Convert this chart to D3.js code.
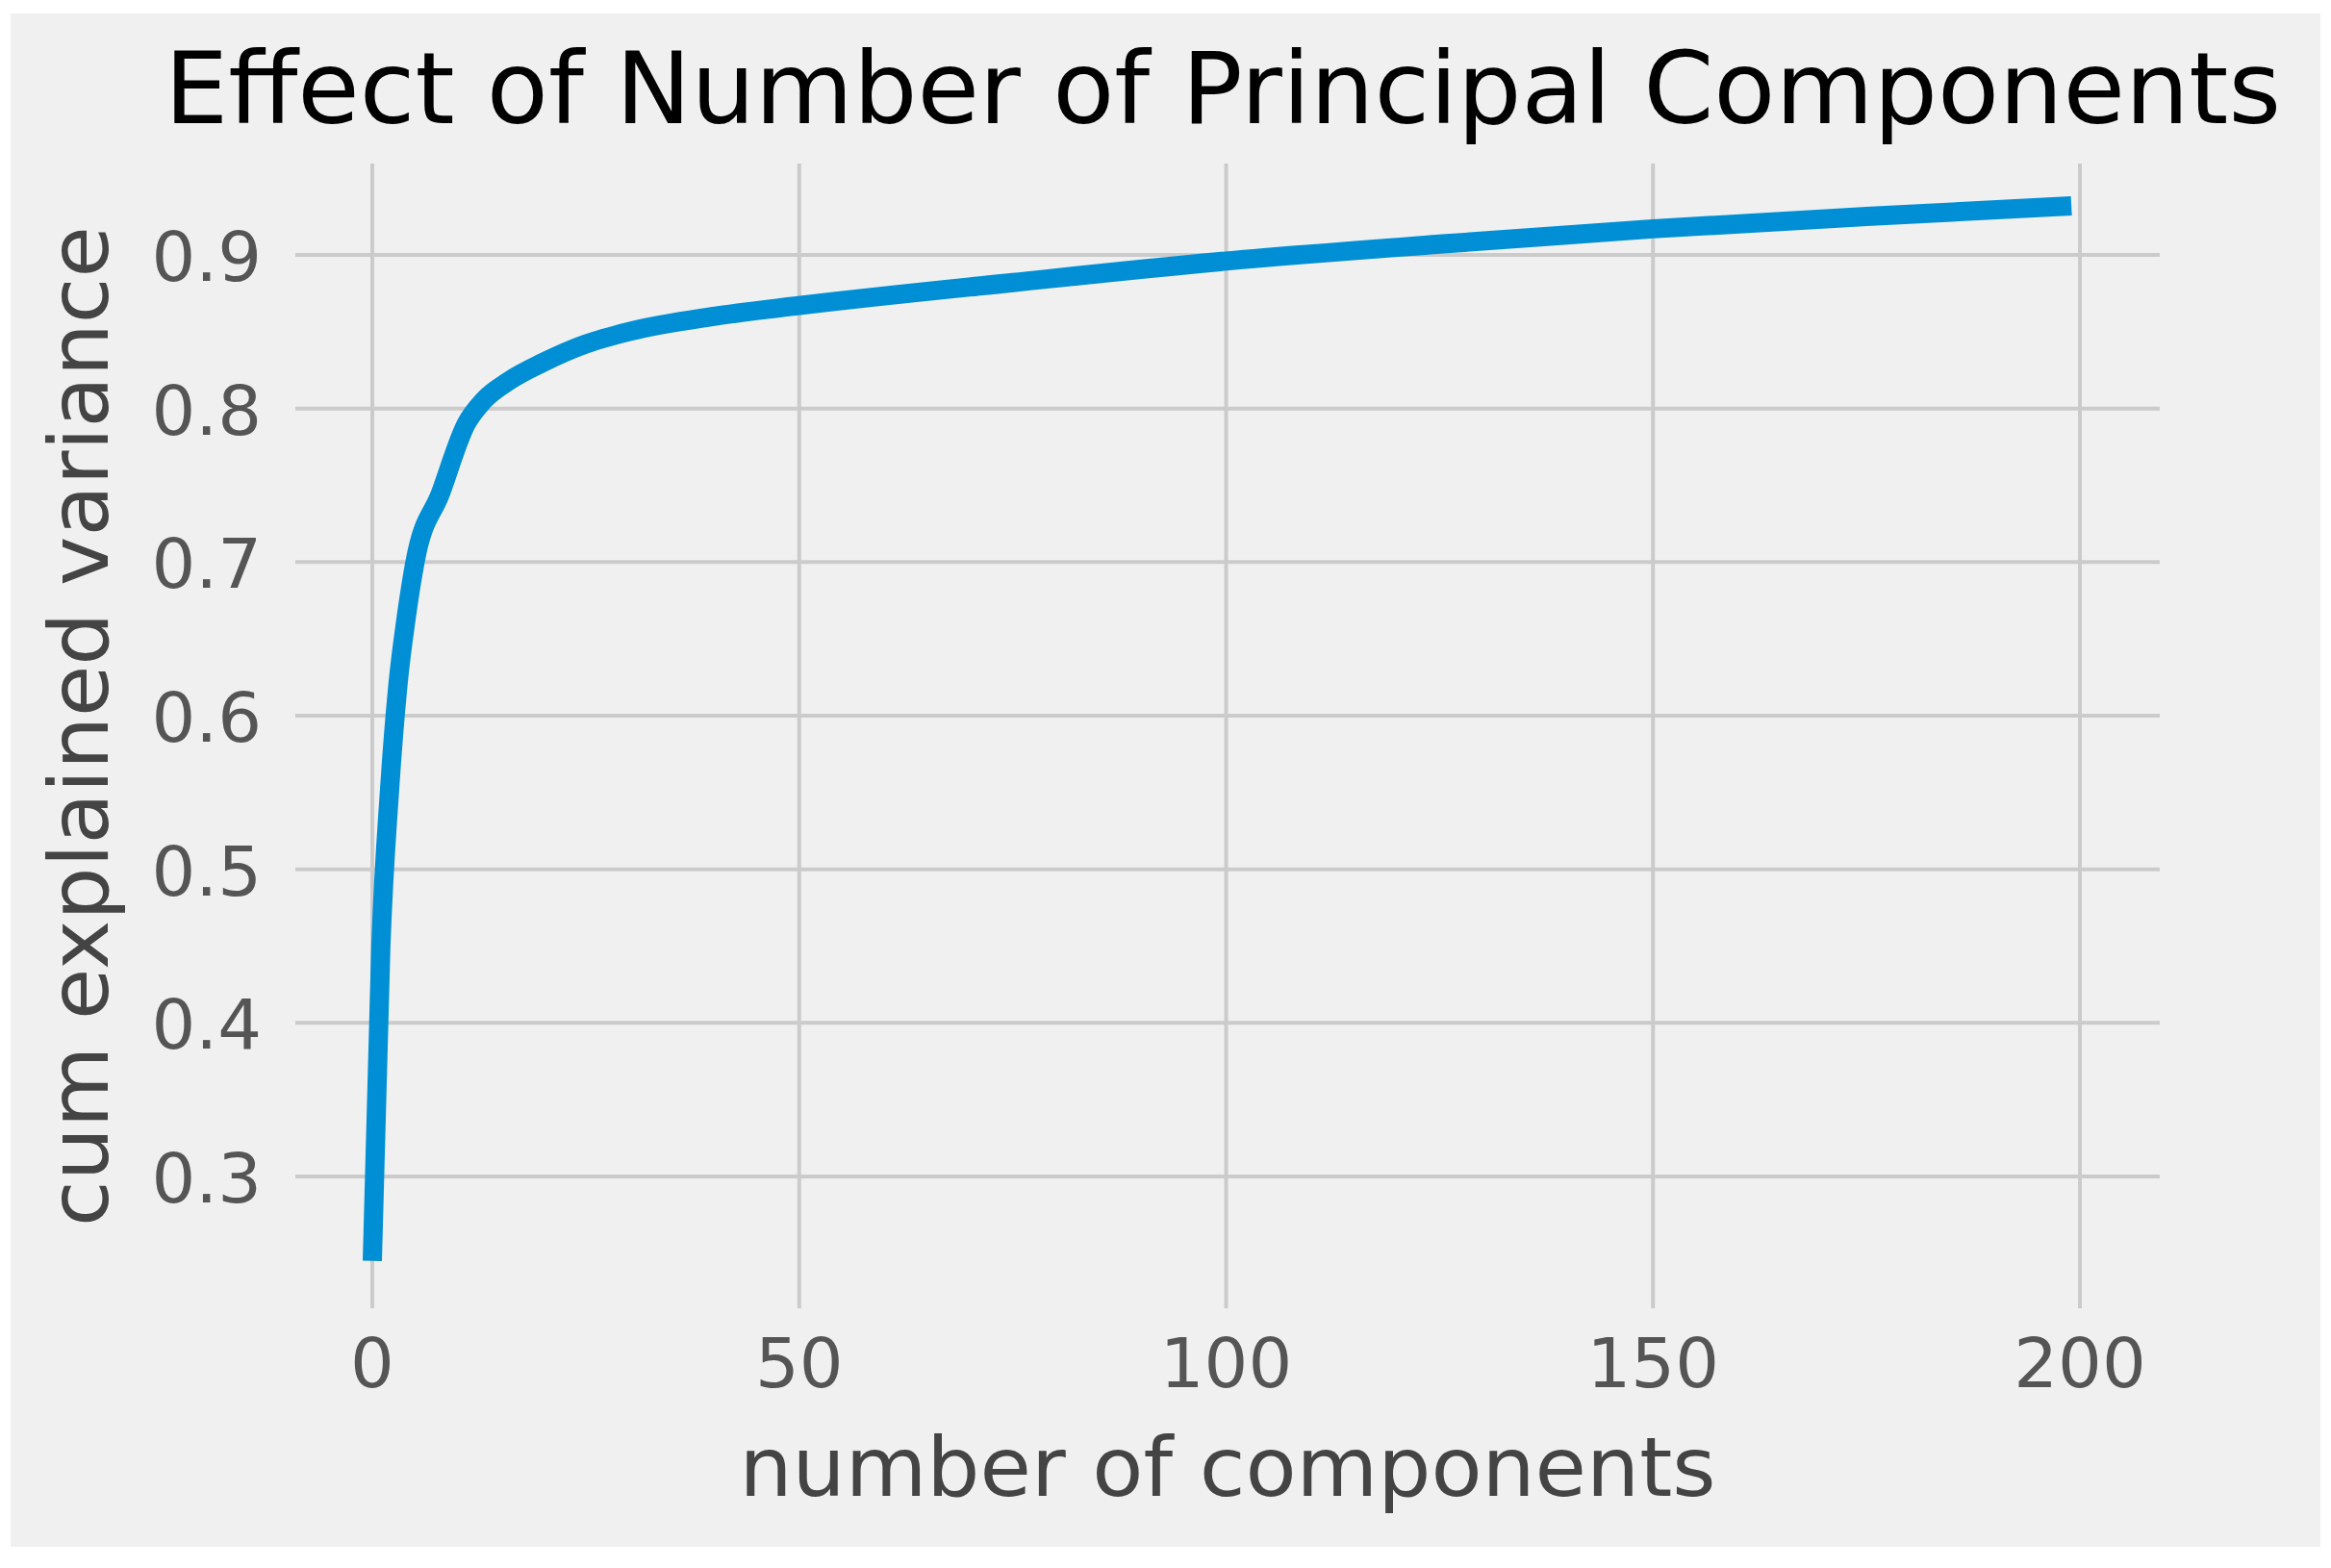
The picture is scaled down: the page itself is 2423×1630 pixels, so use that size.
<!DOCTYPE html>
<html>
<head>
<meta charset="utf-8">
<script src="https://cdn.jsdelivr.net/npm/d3@7"></script>
<style>
  body { margin: 0; background: #fff; }
  text { font-family: "DejaVu Sans", sans-serif; }
</style>
</head>
<body>
<div id="chart"></div>
<script>
// cumulative explained variance
const components = [0, 1, 2, 3, 4, 5, 8, 11, 13, 16, 20, 25, 30, 40, 50, 75, 100, 125, 150, 175, 199];
const cumVariance = [0.245, 0.45, 0.55, 0.62, 0.665, 0.70, 0.745, 0.79, 0.805, 0.818, 0.83, 0.842, 0.85, 0.86, 0.867, 0.882, 0.896, 0.907, 0.917, 0.925, 0.932];
const xTicks = [0, 50, 100, 150, 200];
const yTicks = [0.3, 0.4, 0.5, 0.6, 0.7, 0.8, 0.9];

const W = 2423, H = 1630;
const plot = { left: 307, right: 2245, top: 170, bottom: 1360 };

const svg = d3.select("#chart")
  .append("svg")
  .attr("width", W)
  .attr("height", H);

svg.append("rect")
  .attr("x", 11).attr("y", 14)
  .attr("width", 2401).attr("height", 1594)
  .attr("fill", "#f0f0f0");

const x = d3.scaleLinear().domain([0, 200]).range([387, 2162]);
const y = d3.scaleLinear().domain([0.3, 0.9]).range([1223, 265]);

// grid
svg.selectAll(".vgrid").data(xTicks).enter().append("line")
  .attr("x1", d => x(d)).attr("x2", d => x(d))
  .attr("y1", plot.top).attr("y2", plot.bottom)
  .attr("stroke", "#cbcbcb").attr("stroke-width", 4);
svg.selectAll(".hgrid").data(yTicks).enter().append("line")
  .attr("x1", plot.left).attr("x2", plot.right)
  .attr("y1", d => y(d)).attr("y2", d => y(d))
  .attr("stroke", "#cbcbcb").attr("stroke-width", 4);

// tick labels
svg.selectAll(".xt").data(xTicks).enter().append("text")
  .attr("x", d => x(d)).attr("y", 1442)
  .attr("text-anchor", "middle")
  .attr("font-size", 72).attr("fill", "#555")
  .text(d => d);
svg.selectAll(".yt").data(yTicks).enter().append("text")
  .attr("x", 272).attr("y", d => y(d) + 27)
  .attr("text-anchor", "end")
  .attr("font-size", 72).attr("fill", "#555")
  .text(d => d3.format(".1f")(d));

// line
const line = d3.line()
  .x((d, i) => x(components[i]))
  .y(d => y(d))
  .curve(d3.curveMonotoneX);
svg.append("path")
  .datum(cumVariance)
  .attr("d", line)
  .attr("fill", "none")
  .attr("stroke", "#008fd5")
  .attr("stroke-width", 20);

// titles
svg.append("text")
  .attr("x", 1271).attr("y", 128)
  .attr("text-anchor", "middle")
  .attr("font-size", 104).attr("fill", "#000")
  .attr("textLength", 2200).attr("lengthAdjust", "spacingAndGlyphs")
  .text("Effect of Number of Principal Components");
svg.append("text")
  .attr("x", 1276).attr("y", 1555)
  .attr("text-anchor", "middle")
  .attr("font-size", 86).attr("fill", "#444")
  .attr("textLength", 1015).attr("lengthAdjust", "spacingAndGlyphs")
  .text("number of components");
svg.append("text")
  .attr("transform", `translate(112,${(plot.top + plot.bottom) / 2 - 10}) rotate(-90)`)
  .attr("text-anchor", "middle")
  .attr("font-size", 86).attr("fill", "#444")
  .attr("textLength", 1040).attr("lengthAdjust", "spacingAndGlyphs")
  .text("cum explained variance");
</script>
</body>
</html>
